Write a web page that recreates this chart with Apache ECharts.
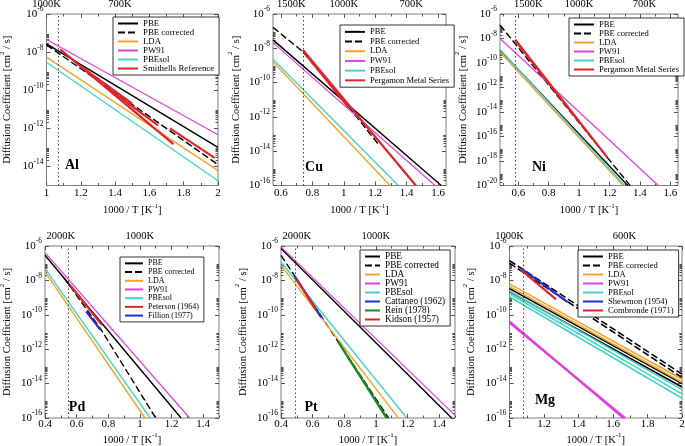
<!DOCTYPE html>
<html><head><meta charset="utf-8">
<script src="https://cdn.jsdelivr.net/npm/echarts@6/dist/echarts.min.js"></script>
<style>html,body{margin:0;padding:0;background:#fff}#c{width:685px;height:446px}</style>
</head><body><div id="c"></div>
<script>
// ===== DATA: x = 1000/T [1/K], y = log10 D [cm^2/s] =====
// --- Al ---
const alXTicks = [1, 1.2, 1.4, 1.6, 1.8, 2];
const alYTicks = [-14, -12, -10, -8, -6];
const alTemps = [1000, 700];
const alMelt = 1.073;
const alPBE = [[1.0, -7.57], [2.0, -13.0]];
const alPBEcorr = [[1.0, -7.62], [1.5, -10.75], [2.0, -13.9]];
const alLDA = [[1.0, -8.26], [2.0, -14.22]];
const alPW91 = [[1.0, -7.34], [2.0, -12.34]];
const alPBEsol = [[1.0, -8.53], [2.0, -14.75]];
const alSmithells = [
  [[1.08, -7.86], [1.74, -12.83]],
  [[1.2, -8.75], [1.5, -10.7]],
  [[1.35, -9.85], [1.65, -11.85]],
  [[1.72, -12.0], [1.98, -13.55]]
];
// --- Cu ---
const cuXTicks = [0.6, 0.8, 1, 1.2, 1.4, 1.6];
const cuYTicks = [-16, -14, -12, -10, -8, -6];
const cuTemps = [1500, 1000, 700];
const cuMelt = 0.736;
const cuPBE = [[0.55, -7.51], [1.62, -16]];
const cuPBEcorr = [[0.55, -6.78], [0.74, -8.2], [1.03, -11.4], [1.22, -13.6]];
const cuLDA = [[0.55, -8.78], [1.294, -16]];
const cuPW91 = [[0.55, -7.67], [1.58, -16]];
const cuPBEsol = [[0.55, -8.64], [1.347, -16]];
const cuPergamon = [
  [[0.74, -8.1], [1.458, -16]],
  [[0.745, -8.2], [1.03, -11.45]]
];
// --- Ni ---
const niXTicks = [0.6, 0.8, 1, 1.2, 1.4, 1.6];
const niYTicks = [-20, -18, -16, -14, -12, -10, -8, -6];
const niTemps = [1500, 1000, 700];
const niMelt = 0.579;
const niPBE = [[0.48, -8.95], [1.32, -20]];
const niPBEcorr = [[0.48, -6.9], [1.335, -20]];
const niLDA = [[0.48, -9.1], [1.29, -20]];
const niPW91 = [[0.48, -8.0], [1.52, -20]];
const niPBEsol = [[0.48, -8.9], [1.30, -20]];
const niPergamon = [
  [[0.58, -8.1], [1.185, -17.7]],
  [[0.585, -8.25], [1.0, -14.8]]
];
// --- Pd ---
const pdXTicks = [0.4, 0.6, 0.8, 1, 1.2, 1.4];
const pdYTicks = [-16, -14, -12, -10, -8, -6];
const pdTemps = [2000, 1000];
const pdMelt = 0.547;
const pdPBE = [[0.4, -6.54], [1.26, -16]];
const pdPBEcorr = [[0.52, -7.85], [0.75, -10.8], [1.10, -16]];
const pdLDA = [[0.4, -7.51], [1.032, -16]];
const pdPW91 = [[0.4, -6.39], [1.314, -16]];
const pdPBEsol = [[0.4, -7.32], [1.065, -16]];
const pdPeterson = [[0.56, -8.3], [0.76, -10.6]];
const pdFillion = [[0.66, -9.8], [0.748, -10.85]];
// --- Pt ---
const ptXTicks = [0.4, 0.6, 0.8, 1, 1.2, 1.4];
const ptYTicks = [-16, -14, -12, -10, -8, -6];
const ptTemps = [2000, 1000];
const ptMelt = 0.491;
const ptPBE = [[0.4, -6.15], [1.479, -16]];
const ptPBEcorr = [[0.4, -6.54], [1.08, -16]];
const ptLDA = [[0.4, -7.13], [1.142, -16]];
const ptPW91 = [[0.4, -6.05], [1.5, -15.85]];
const ptPBEsol = [[0.4, -6.93], [1.195, -16]];
const ptCattaneo = [[0.486, -7.75], [0.655, -10.15]];
const ptRein = [[0.76, -11.55], [1.068, -16]];
const ptKidson = [[0.5, -7.95], [0.62, -9.7]];
// --- Mg (two diffusion directions per method) ---
const mgXTicks = [1, 1.2, 1.4, 1.6, 1.8, 2];
const mgYTicks = [-16, -14, -12, -10, -8, -6];
const mgTemps = [1000, 600];
const mgMelt = 1.083;
const mgPBE = [[[1, -8.47], [2, -14.0]], [[1, -8.65], [2, -14.2]]];
const mgPBEcorr = [[[1, -6.85], [2, -13.45]], [[1, -7.0], [2, -13.65]]];
const mgLDA = [[[1, -8.2], [2, -13.75]], [[1, -8.37], [2, -13.92]]];
const mgPW91 = [[[1, -10.39], [1.66, -16]], [[1, -10.46], [1.67, -16]]];
const mgPBEsol = [[[1, -8.62], [2, -14.35]], [[1, -8.78], [2, -14.6]], [[1, -8.95], [2, -14.85]]];
const mgShewmon = [[1.067, -7.3], [1.337, -9.26]];
const mgCombronde = [[1.065, -7.38], [1.27, -9.1]];

// ===== STYLES / LAYOUT =====
const SERIF = 'Liberation Serif';
const FRAME = '#808080', TICK = '#555';
const STY = {
  PBE: {color: '#000000', width: 1.4},
  PBEcorr: {color: '#000000', width: 1.4, type: [7, 3]},
  LDA: {color: '#f0a431', width: 1.4},
  PW91: {color: '#e040e0', width: 1.2},
  PBEsol: {color: '#48d4c4', width: 1.4},
  red: {color: '#e0262a', width: 2.2},
  blue: {color: '#2332c9', width: 2.2},
  green: {color: '#1e8a26', width: 2.4}
};
const MG_W = 1.6;

const panels = [
  {label: 'Al', xr: [1, 2], yr: [-15, -6], xt: alXTicks, yt: alYTicks, temps: alTemps, melt: alMelt,
   ser: [['PBE', alPBE, 'PBE'], ['PBE corrected', alPBEcorr, 'PBEcorr'], ['LDA', alLDA, 'LDA'], ['PW91', alPW91, 'PW91'], ['PBEsol', alPBEsol, 'PBEsol'], ['Smithells Reference', alSmithells, 'red']],
   lay: {grid: {left: 46.5, top: 14, width: 171.5, height: 171.5}, xLM: 2.5, xNG: 17, yNG: 30, tM: 4.5,
         lg: {left: 113, top: 17, iw: 20, ih: 7, lh: 8.3, fs: 8.8}, lab: [72, 165]}},
  {label: 'Cu', xr: [0.55, 1.65], yr: [-16, -6], xt: cuXTicks, yt: cuYTicks, temps: cuTemps, melt: cuMelt,
   ser: [['PBE', cuPBE, 'PBE'], ['PBE corrected', cuPBEcorr, 'PBEcorr'], ['LDA', cuLDA, 'LDA'], ['PW91', cuPW91, 'PW91'], ['PBEsol', cuPBEsol, 'PBEsol'], ['Pergamon Metal Series', cuPergamon, 'red']],
   lay: {grid: {left: 273, top: 14, width: 173, height: 171.5}, xLM: 2.5, xNG: 17, yNG: 21, tM: 4.5,
         lg: {left: 340, top: 25, iw: 20, ih: 7, lh: 9.7, fs: 8.5}, lab: [314, 167]}},
  {label: 'Ni', xr: [0.48, 1.65], yr: [-20, -6], xt: niXTicks, yt: niYTicks, temps: niTemps, melt: niMelt,
   ser: [['PBE', niPBE, 'PBE'], ['PBE corrected', niPBEcorr, 'PBEcorr'], ['LDA', niLDA, 'LDA'], ['PW91', niPW91, 'PW91'], ['PBEsol', niPBEsol, 'PBEsol'], ['Pergamon Metal Series', niPergamon, 'red']],
   lay: {grid: {left: 500, top: 14, width: 178, height: 171.5}, xLM: 2.5, xNG: 17, yNG: 18, tM: 4.5,
         lg: {left: 569, top: 18, iw: 20, ih: 7, lh: 8.3, fs: 8.6}, lab: [539, 167]}},
  {label: 'Pd', xr: [0.4, 1.5], yr: [-16, -6], xt: pdXTicks, yt: pdYTicks, temps: pdTemps, melt: pdMelt,
   ser: [['PBE', pdPBE, 'PBE'], ['PBE corrected', pdPBEcorr, 'PBEcorr'], ['LDA', pdLDA, 'LDA'], ['PW91', pdPW91, 'PW91'], ['PBEsol', pdPBEsol, 'PBEsol'], ['Peterson (1964)', pdPeterson, 'red'], ['Fillion (1977)', pdFillion, 'blue']],
   lay: {grid: {left: 45, top: 246, width: 174, height: 172}, xLM: 0.5, xNG: 14, yNG: 28.7, tM: 4.5,
         lg: {left: 120, top: 257, iw: 18, ih: 7, lh: 8.7, fs: 8}, lab: [77, 407]}},
  {label: 'Pt', xr: [0.4, 1.5], yr: [-16, -6], xt: ptXTicks, yt: ptYTicks, temps: ptTemps, melt: ptMelt,
   ser: [['PBE', ptPBE, 'PBE'], ['PBE corrected', ptPBEcorr, 'PBEcorr'], ['LDA', ptLDA, 'LDA'], ['PW91', ptPW91, 'PW91'], ['PBEsol', ptPBEsol, 'PBEsol'], ['Cattaneo (1962)', ptCattaneo, 'blue'], ['Rein (1978)', ptRein, 'green'], ['Kidson (1957)', ptKidson, 'red']],
   lay: {grid: {left: 281, top: 246, width: 174, height: 172}, xLM: 0.5, xNG: 14, yNG: 29, tM: 4.5,
         lg: {left: 360, top: 250, iw: 15, ih: 7, lh: 8.5, fs: 9.3}, lab: [311, 407]}},
  {label: 'Mg', xr: [1, 2], yr: [-16, -6], xt: mgXTicks, yt: mgYTicks, temps: mgTemps, melt: mgMelt, thick: true,
   ser: [['PBE', mgPBE, 'PBE'], ['PBE corrected', mgPBEcorr, 'PBEcorr'], ['LDA', mgLDA, 'LDA'], ['PW91', mgPW91, 'PW91'], ['PBEsol', mgPBEsol, 'PBEsol'], ['Shewmon (1954)', mgShewmon, 'blue'], ['Combronde (1971)', mgCombronde, 'red']],
   lay: {grid: {left: 509.5, top: 246, width: 172.5, height: 172}, xLM: 0.5, xNG: 14, yNG: 29.5, tM: 4.5,
         lg: {left: 578, top: 250, iw: 20, ih: 7, lh: 8, fs: 8.6}, lab: [545, 400]}}
];

function minorX(xt, xr) {
  const out = [];
  const cand = [xt[0] - 0.1];
  xt.forEach(v => cand.push(v + 0.1));
  cand.forEach(v => { const r = Math.round(v * 100) / 100; if (r >= xr[0] - 1e-9 && r <= xr[1] + 1e-9) out.push(r); });
  return out;
}
function minorY(yt, yr) {
  const out = [];
  yt.forEach(e => { for (let k = 2; k <= 9; k++) { const v = e + Math.log10(k); if (v >= yr[0] && v <= yr[1]) out.push(v); } });
  return out;
}
const supRich = (fs, lh) => ({
  b: {fontFamily: SERIF, fontSize: fs, lineHeight: lh, color: '#000'},
  s: {fontFamily: SERIF, fontSize: fs * 0.68, verticalAlign: 'top', color: '#000'}
});

const option = {animation: false, backgroundColor: '#fff', grid: [], xAxis: [], yAxis: [], series: [], legend: [], graphic: []};

panels.forEach((p, i) => {
  const L = p.lay;
  const gM = 2 * i, gN = 2 * i + 1;
  option.grid.push(Object.assign({}, L.grid, {show: true, borderColor: FRAME, borderWidth: 1, containLabel: false, outerBoundsMode: 'none'}));
  option.grid.push(Object.assign({}, L.grid, {show: false, containLabel: false, outerBoundsMode: 'none'}));
  const xMin = minorX(p.xt, p.xr), yMin = minorY(p.yt, p.yr);
  const tempPos = p.temps.map(T => 1000 / T);
  const baseX = (g, pos) => ({gridIndex: g, type: 'value', min: p.xr[0], max: p.xr[1], position: pos,
    axisLine: {show: false}, splitLine: {show: false}, splitArea: {show: false}});
  const baseY = (g, pos) => ({gridIndex: g, type: 'value', min: p.yr[0], max: p.yr[1], position: pos,
    axisLine: {show: false}, splitLine: {show: false}, splitArea: {show: false}});
  const tick = (vals, len) => ({show: true, inside: true, length: len, customValues: vals, lineStyle: {color: TICK, width: 1}});
  // x axes
  option.xAxis.push(Object.assign(baseX(gM, 'bottom'), {
    axisTick: tick(p.xt, 4),
    axisLabel: {show: true, customValues: p.xt, margin: L.xLM, fontFamily: SERIF, fontSize: 11, color: '#000',
      formatter: v => String(Math.round(v * 10) / 10)},
    name: '1000 / T [K{s|-1}]', nameLocation: 'middle', nameGap: L.xNG,
    nameTextStyle: {fontFamily: SERIF, fontSize: 10.5, color: '#000', lineHeight: 16,
      rich: {s: {fontFamily: SERIF, fontSize: 7, verticalAlign: 'top', color: '#000'}}}
  }));
  option.xAxis.push(Object.assign(baseX(gM, 'top'), {
    axisTick: tick(p.xt, 4),
    axisLabel: {show: true, customValues: tempPos, margin: L.tM, fontFamily: SERIF, fontSize: 10.5, color: '#000',
      formatter: v => Math.round(1000 / v) + 'K'}
  }));
  option.xAxis.push(Object.assign(baseX(gN, 'bottom'), {axisTick: tick(xMin, 2.5), axisLabel: {show: false}}));
  option.xAxis.push(Object.assign(baseX(gN, 'top'), {axisTick: tick(xMin, 2.5), axisLabel: {show: false}}));
  // y axes
  option.yAxis.push(Object.assign(baseY(gM, 'left'), {
    axisTick: tick(p.yt, 4),
    axisLabel: {show: true, customValues: p.yt, margin: 3, formatter: v => '{b|10}{s|' + Math.round(v) + '}', rich: supRich(11, 16)},
    name: 'Diffusion Coefficient [cm{s|2} / s]', nameLocation: 'middle', nameGap: L.yNG,
    nameTextStyle: {fontFamily: SERIF, fontSize: 10.5, color: '#000', lineHeight: 18,
      rich: {s: {fontFamily: SERIF, fontSize: 7, verticalAlign: 'top', color: '#000'}}}
  }));
  option.yAxis.push(Object.assign(baseY(gM, 'right'), {axisTick: tick(p.yt, 4), axisLabel: {show: false}}));
  option.yAxis.push(Object.assign(baseY(gN, 'left'), {axisTick: tick(yMin, 2.5), axisLabel: {show: false}}));
  option.yAxis.push(Object.assign(baseY(gN, 'right'), {axisTick: tick(yMin, 2.5), axisLabel: {show: false}}));

  // series
  let first = true;
  p.ser.forEach(([name, data, sk]) => {
    const segs = Array.isArray(data[0][0]) ? data : [data];
    segs.forEach(seg => {
      const st = Object.assign({}, STY[sk]);
      if (p.thick && ['PBE', 'PBEcorr', 'LDA', 'PW91', 'PBEsol'].includes(sk)) st.width = (sk === 'PW91') ? 2.2 : MG_W;
      const s = {type: 'line', name: name, xAxisIndex: 4 * i, yAxisIndex: 4 * i, data: seg,
        symbol: 'none', showSymbol: false, silent: true, animation: false,
        lineStyle: st, itemStyle: {color: st.color}, emphasis: {disabled: true}};
      if (first) {
        s.markLine = {silent: true, symbol: ['none', 'none'], label: {show: false}, animation: false,
          lineStyle: {type: [1.5, 2.5], color: '#444', width: 1}, emphasis: {disabled: true},
          data: [{xAxis: p.melt}]};
        first = false;
      }
      option.series.push(s);
    });
  });

  // legend
  const names = p.ser.map(e => e[0]);
  option.legend.push({
    left: L.lg.left, top: L.lg.top, orient: 'vertical', data: names, selectedMode: false,
    itemWidth: L.lg.iw, itemHeight: L.lg.ih, itemGap: 0, padding: [2, 5, 2, 4],
    borderColor: '#000', borderWidth: 0.8, backgroundColor: '#fff',
    textStyle: {fontFamily: SERIF, fontSize: L.lg.fs, color: '#000', lineHeight: L.lg.lh},
    itemStyle: {opacity: 0},
    lineStyle: {width: 2}
  });

  // panel label
  option.graphic.push({type: 'text', x: L.lab[0], y: L.lab[1], silent: true,
    style: {text: p.label, font: 'bold 14px "Liberation Serif"', fill: '#000', textAlign: 'center', textVerticalAlign: 'middle'}});
});

const chart = echarts.init(document.getElementById('c'), null, {renderer: 'canvas'});
chart.setOption(option);
</script>
</body></html>
